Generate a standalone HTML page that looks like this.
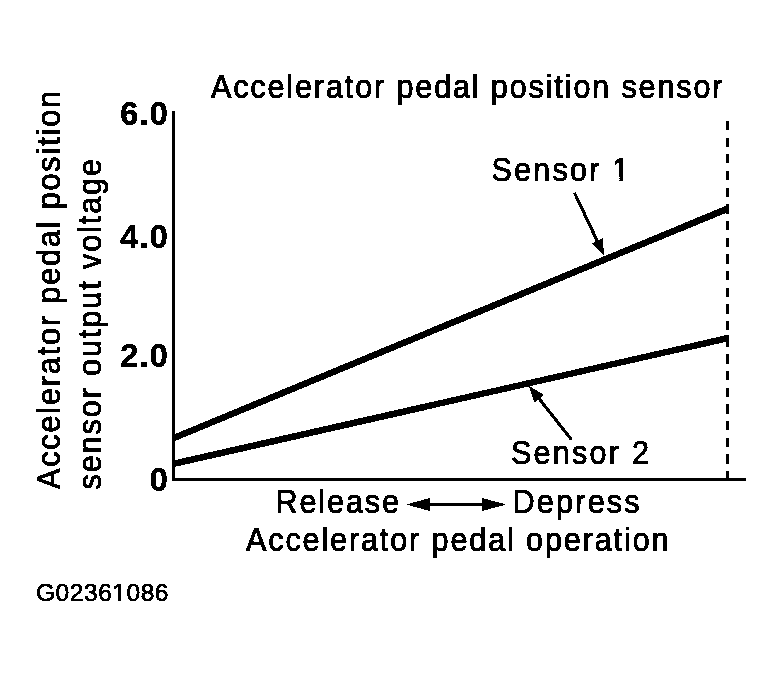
<!DOCTYPE html>
<html><head><meta charset="utf-8"><title>Accelerator pedal position sensor</title>
<style>
html,body{margin:0;padding:0;background:#fff;}
body{width:783px;height:677px;overflow:hidden;}
svg{display:block;}
text{font-family:"Liberation Sans",Arial,sans-serif;fill:#000;stroke:#000;stroke-linejoin:round;}
.b{font-weight:bold;}
</style></head><body>
<svg width="783" height="677" viewBox="0 0 783 677">
<rect width="783" height="677" fill="#fff"/>
<defs><clipPath id="c0" clipPathUnits="userSpaceOnUse"><path clip-rule="evenodd" d="M-50,-60 H900 V40 H-50 Z M129.49,-3.23 H136.22 V3 H129.49 Z M140.03,-3.23 H146.51 V3 H140.03 Z"/></clipPath>
<clipPath id="c1" clipPathUnits="userSpaceOnUse"><path clip-rule="evenodd" d="M-50,-60 H900 V40 H-50 Z M76.69,-2.53 H82.11 V3 H76.69 Z M85.02,-2.53 H90.25 V3 H85.02 Z"/></clipPath><filter id="bw" x="0" y="0" width="783" height="677" filterUnits="userSpaceOnUse" color-interpolation-filters="sRGB"><feComponentTransfer><feFuncA type="discrete" tableValues="0 1"/></feComponentTransfer></filter></defs>
<g filter="url(#bw)">
<rect x="172" y="111.5" width="3" height="369.5" fill="#000"/>
<rect x="172" y="478" width="574" height="3" fill="#000"/>
<line x1="727.5" y1="121" x2="727.5" y2="479" stroke="#000" stroke-width="3" stroke-dasharray="9 7.68"/>
<polygon points="172,435.16 728.8,204.60 728.8,211.70 172,442.26" fill="#000"/>
<polygon points="172,460.83 728.8,334.59 728.8,341.19 172,467.43" fill="#000"/>
<text transform="translate(211.00,97.70) scale(0.94,1)" font-size="32.5" stroke-width="0.9" textLength="544.15" lengthAdjust="spacing">Accelerator pedal position sensor</text>
<text class="b" transform="translate(120.30,124.50) scale(1,1)" font-size="32.5" stroke-width="0.4" textLength="47.50" lengthAdjust="spacing">6.0</text>
<text class="b" transform="translate(120.30,247.80) scale(1,1)" font-size="32.5" stroke-width="0.4" textLength="47.50" lengthAdjust="spacing">4.0</text>
<text class="b" transform="translate(120.30,366.80) scale(1,1)" font-size="32.5" stroke-width="0.4" textLength="47.50" lengthAdjust="spacing">2.0</text>
<text class="b" transform="translate(149.70,491.00) scale(1,1)" font-size="32.5" stroke-width="0.4" textLength="18.07" lengthAdjust="spacing">0</text>
<text transform="translate(60.30,489.00) rotate(-90) scale(0.94,1)" font-size="32.5" stroke-width="0.9" textLength="423.40" lengthAdjust="spacing">Accelerator pedal position</text>
<text transform="translate(100.80,489.50) rotate(-90) scale(0.94,1)" font-size="32.5" stroke-width="0.9" textLength="351.60" lengthAdjust="spacing">sensor output voltage</text>
<text clip-path="url(#c0)" transform="translate(491.50,180.90) scale(0.94,1)" font-size="32.5" stroke-width="0.9" textLength="146.60" lengthAdjust="spacing">Sensor 1</text>
<text transform="translate(511.00,464.30) scale(0.94,1)" font-size="32.5" stroke-width="0.9" textLength="146.81" lengthAdjust="spacing">Sensor 2</text>
<text transform="translate(275.50,513.00) scale(0.94,1)" font-size="32.5" stroke-width="0.9" textLength="131.38" lengthAdjust="spacing">Release</text>
<text transform="translate(512.60,513.00) scale(0.94,1)" font-size="32.5" stroke-width="0.9" textLength="135.11" lengthAdjust="spacing">Depress</text>
<text transform="translate(246.00,550.80) scale(0.94,1)" font-size="32.5" stroke-width="0.9" textLength="449.47" lengthAdjust="spacing">Accelerator pedal operation</text>
<text clip-path="url(#c1)" transform="translate(36.00,601.00) scale(1,1)" font-size="24.5" stroke-width="0.7" textLength="132.50" lengthAdjust="spacing">G02361086</text>
<line x1="574.40" y1="192.60" x2="597.60" y2="241.74" stroke="#000" stroke-width="3.1"/><polygon points="604.00,255.30 591.47,243.52 602.87,238.14" fill="#000"/>
<line x1="571.50" y1="439.70" x2="538.56" y2="397.95" stroke="#000" stroke-width="3.1"/><polygon points="528.90,385.70 543.97,394.95 534.39,402.51" fill="#000"/>
<rect x="425" y="503.1" width="62" height="2.8" fill="#000"/>
<polygon points="405.9,504.45 429.9,497.9 429.9,510.9" fill="#000"/>
<polygon points="506.3,504.45 482.1,497.9 482.1,510.9" fill="#000"/>
</g>
</svg>
</body></html>
